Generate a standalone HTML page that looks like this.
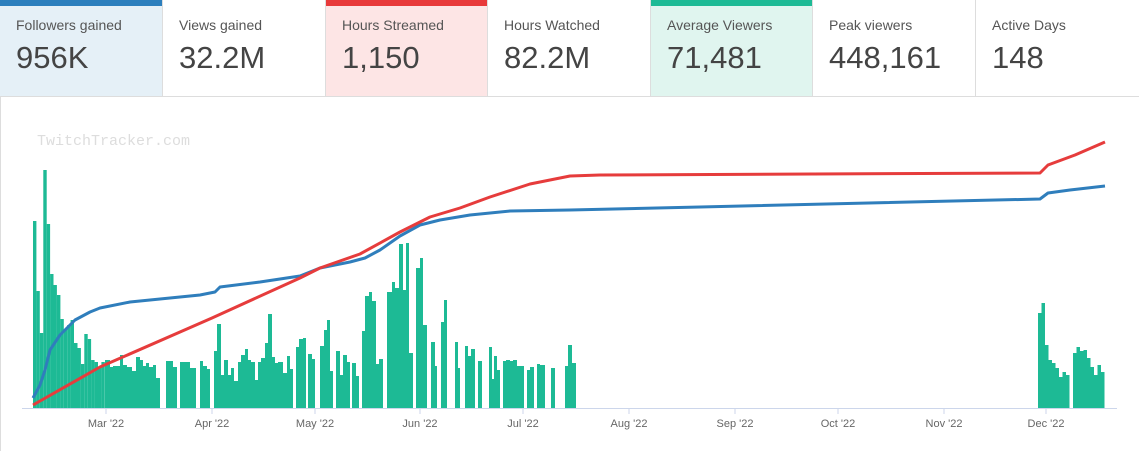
<!DOCTYPE html>
<html><head><meta charset="utf-8"><style>
body{margin:0;width:1139px;height:451px;background:#fff;font-family:"Liberation Sans",sans-serif;overflow:hidden;position:relative}
.card{position:absolute;top:0;height:97px;border-right:1px solid #ddd;border-bottom:1px solid #ddd;box-sizing:border-box}
.card .l{position:absolute;left:16px;top:17px;font-size:14px;color:#555}
.card .v{position:absolute;left:16px;top:40px;font-size:31px;color:#444}
.bar{position:absolute;left:0;top:0;right:0;height:6px}
#chart{position:absolute;left:0;top:97px;width:1139px;height:354px;border-left:1px solid #ddd;box-sizing:border-box}
</style></head><body>
<div class="card" style="left:0;width:163px;background:#e5f0f7"><div class="bar" style="background:#2c7fbd"></div><div class="l">Followers gained</div><div class="v">956K</div></div>
<div class="card" style="left:163px;width:163px"><div class="l">Views gained</div><div class="v">32.2M</div></div>
<div class="card" style="left:326px;width:162px;background:#fde5e5"><div class="bar" style="background:#e8393a"></div><div class="l">Hours Streamed</div><div class="v">1,150</div></div>
<div class="card" style="left:488px;width:163px"><div class="l">Hours Watched</div><div class="v">82.2M</div></div>
<div class="card" style="left:651px;width:162px;background:#e0f5ef"><div class="bar" style="background:#1dba95"></div><div class="l">Average Viewers</div><div class="v">71,481</div></div>
<div class="card" style="left:813px;width:163px"><div class="l">Peak viewers</div><div class="v">448,161</div></div>
<div class="card" style="left:976px;width:163px;border-right:none"><div class="l">Active Days</div><div class="v">148</div></div>
<div id="chart"></div>
<svg id="s" width="1139" height="451" style="position:absolute;left:0;top:0"></svg>
<script>
var B=408,h='';
function r(x0,x1,t){h+='<rect x="'+x0+'" y="'+t+'" width="'+(x1-x0)+'" height="'+(B-t)+'" fill="#1dba95"/>';}
var feb=[221,291,333,170,224,274,285,295,319,330,325,320,343,348,364,334,339,360,362,367,362];
feb.forEach(function(t,i){r(+(33+i*3.42).toFixed(1),+(33+(i+1)*3.42).toFixed(1),t)});
var segs=[[105,110,360],[110,113,367],[113,120,366],[120,123,355],[123,127,365],[127,132,367],[132,136,371],[136,140,357],[140,143,360],[143,146,366],[146,149,363],[149,153,367],[153,156,365],[156,160,378],
[166,170,361],[170,173,361],[173,177,367],[180,190,362],[190,196,368],[200,203,361],[203,207,366],[207,210,369],
[214,217,351],[217,221,324],[221,224,375],[224,228,360],[228,231,375],[231,234,368],[234,238,381],[238,241,362],[241,245,355],[245,248,349],[248,251,360],[251,255,362],[255,258,380],[258,261,362],[261,265,358],[265,268,343],[268,272,314],[272,275,357],[275,278,363],[278,283,362],[283,287,373],[287,290,356],[290,293,369],
[296,299,347],[299,303,339],[303,306,338],[308,312,354],[312,315,359],[320,324,346],[324,327,330],[327,330,320],[330,333,371],[336,340,351],[340,343,375],[343,347,355],[347,350,362],[352,356,363],[356,359,376],[362,365,331],[365,369,296],[369,372,292],[372,376,301],[376,379,364],[379,383,359],
[387,392,292],[392,395,282],[395,399,288],[399,403,244],[403,406,290],[406,409,243],[409,413,353],[416,420,268],[420,423,258],[423,427,325],
[431,435,342],[435,437,366],[441,444,322],[444,447,300],[455,458,342],[458,460,368],[465,468,346],[468,471,356],[471,475,349],[478,482,361],[489,492,347],[492,494,379],[494,497,356],[497,500,370],[503,506,361],[506,510,360],[510,513,361],[513,517,360],[517,524,366],[527,530,370],[530,534,367],[537,540,364],[540,545,365],[551,555,368],[565,568,366],[568,572,345],[572,576,363]];
segs.forEach(function(s){r(s[0],s[1],s[2])});
var dec=[313,303,345,360,363,368,377,372,375,0,353,347,351,350,358,367,375,365,372,0];
dec.forEach(function(t,i){if(t)r(+(1038+i*3.5).toFixed(1),+(1038+(i+1)*3.5).toFixed(1),t)});
h+='<text x="37" y="145" font-family="Liberation Mono,monospace" font-size="15" fill="#ddd">TwitchTracker.com</text>';
h+='<line x1="22" y1="408.5" x2="1117" y2="408.5" stroke="#ccd6eb"/>';
var m=[["Mar",106],["Apr",212],["May",315],["Jun",420],["Jul",523],["Aug",629],["Sep",735],["Oct",838],["Nov",944],["Dec",1046]];
m.forEach(function(a){h+='<line x1="'+a[1]+'" y1="408" x2="'+a[1]+'" y2="414" stroke="#ccd6eb"/><text x="'+a[1]+'" y="427" text-anchor="middle" font-size="11" fill="#666">'+a[0]+" '22</text>";});
var blue=[[33,398],[40,385],[45,370],[50,350],[60,335],[75,320],[90,312],[100,308],[130,302],[200,295],[215,292],[220,287],[260,282],[300,276],[320,268],[350,262],[365,258],[380,250],[400,236],[420,225],[440,220],[470,215],[510,211],[570,210],[700,207],[1040,199],[1048,193],[1070,190],[1105,186]];
var red=[[33,405],[100,367],[212,318],[300,278],[320,268],[360,254],[400,232],[430,217],[460,208],[490,197],[530,184],[545,181],[570,176],[600,175],[1040,173],[1048,165],[1075,155],[1105,142]];
function pl(p,c){return '<polyline fill="none" stroke="'+c+'" stroke-width="3" stroke-linejoin="round" points="'+p.map(function(q){return q.join(',')}).join(' ')+'"/>';}
h+=pl(blue,'#2f7ebc')+pl(red,'#e63c3c');
document.getElementById('s').innerHTML=h;
</script>
</body></html>
